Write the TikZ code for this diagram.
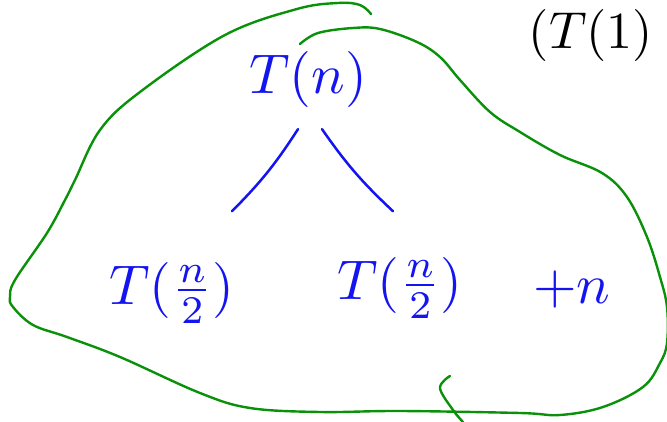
\documentclass[tikz,border=0pt]{standalone}
\usepackage{amsmath}
\usetikzlibrary{positioning}

\definecolor{inkblue}{RGB}{20,20,240}
\definecolor{inkgreen}{RGB}{10,145,10}

\tikzset{
  term/.style={inkblue, inner sep=0pt, scale=5.6},
  edge/.style={inkblue, line width=2.5pt, line cap=round},
  blob/.style={inkgreen, line width=2.4pt, line cap=round, line join=round}
}

\begin{document}
\begin{tikzpicture}[x=1pt, y=-1pt]
	\useasboundingbox (0,0) rectangle (667,422);
	% recursion tree
	\node[term] (tn) at (308,80) {$T(n)$};
	\node[term] (tleft) at (172,293) {$T(\tfrac{n}{2})$};
	\node[term] (tright) at (400,288) {$T(\tfrac{n}{2})$};
	\node[term] (plusn) at (572,290) {$+n$};
	\node[inner sep=0pt, scale=5.2] (tone) at (591,36) {$(T(1)$};
	\draw[edge] ([shift={(-10,20)}]tn.south) to[bend left=6] ([shift={(60,-50)}]tleft.north);
	\draw[edge] ([shift={(14,20)}]tn.south) to[bend right=6] ([shift={(-7,-45)}]tright.north);
	% green loop round the tree
	\draw[blob] plot[smooth, tension=0.6] coordinates {
		(371,14) (360,5) (338,3) (297,9) (225,35) (140,92) (100,130)
		(75,180) (65,200) (47,233) (15,280) (10,297) (13,307) (33,325) (67,337)
		(120,357) (200,393) (250,408) (320,412) (400,411) (520,413) (560,415)
		(603,407) (643,387) (660,363) (667,343) (667,307) (660,277) (647,237)
		(627,197) (602,173) (560,155) (520,132) (490,112) (460,80) (440,57)
		(417,42) (380,29) (353,28) (318,33) (300,44)};
	\draw[blob] plot[smooth, tension=0.6] coordinates {
		(450,376) (440,388) (453,410) (463,422)};
\end{tikzpicture}
\end{document}
